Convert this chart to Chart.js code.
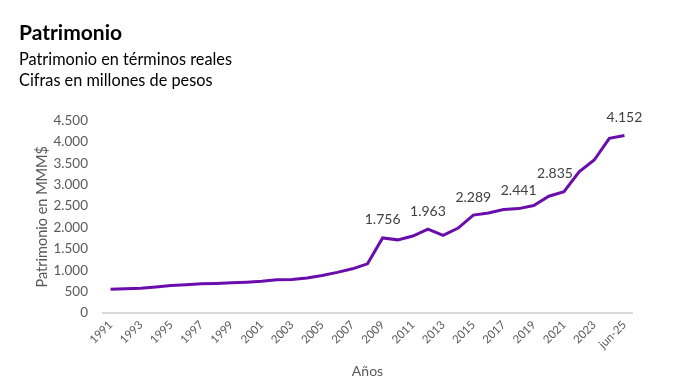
<!DOCTYPE html>
<html>
<head>
<meta charset="utf-8">
<script src="https://cdn.jsdelivr.net/npm/chart.js@4/dist/chart.umd.min.js"></script>
<style>
  html, body { margin: 0; padding: 0; background: #fff; }
  #wrap { width: 675px; height: 392px; }
</style>
</head>
<body>
<div id="wrap"><canvas id="patrimonioChart"></canvas></div>
<script>
// Datos del gráfico
const years = ['1991','1992','1993','1994','1995','1996','1997','1998','1999','2000',
  '2001','2002','2003','2004','2005','2006','2007','2008','2009','2010',
  '2011','2012','2013','2014','2015','2016','2017','2018','2019','2020',
  '2021','2022','2023','2024','jun-25'];
const patrimonio = [555, 565, 578, 610, 641, 660, 681, 690, 704, 720,
  742, 775, 782, 820, 876, 950, 1033, 1150, 1756, 1710,
  1800, 1963, 1815, 1987, 2289, 2340, 2418, 2441, 2512, 2731,
  2835, 3303, 3577, 4086, 4152];
const labeledPoints = [18, 21, 24, 27, 30, 34];
const yTicks = [0, 500, 1000, 1500, 2000, 2500, 3000, 3500, 4000, 4500];

const fmt = v => v.toLocaleString('de-DE');
const FONT = 'Lato, "Open Sans", sans-serif';

// Etiquetas de datos
const dataLabels = {
  id: 'dataLabels',
  afterDatasetsDraw(chart) {
    const ctx = chart.ctx;
    const meta = chart.getDatasetMeta(0);
    ctx.save();
    ctx.font = '14px ' + FONT;
    ctx.fillStyle = '#404040';
    ctx.textAlign = 'center';
    ctx.textBaseline = 'middle';
    labeledPoints.forEach(i => {
      const p = meta.data[i];
      const dx = i === 30 ? -9 : 0;
      ctx.fillText(fmt(patrimonio[i]), p.x + dx, p.y - 18);
    });
    ctx.restore();
  }
};

new Chart(document.getElementById('patrimonioChart'), {
  type: 'line',
  data: {
    labels: years,
    datasets: [{
      data: patrimonio,
      borderColor: '#6a0dad',
      borderWidth: 3,
      pointRadius: 0,
      tension: 0,
      fill: false
    }]
  },
  options: {
    responsive: true,
    maintainAspectRatio: false,
    animation: false,
    layout: { padding: { left: 19, right: 43, top: 8, bottom: 8 } },
    scales: {
      x: {
        offset: true,
        grid: { display: false, drawTicks: false },
        border: { display: true, color: '#d9d9d9', width: 2 },
        ticks: {
          color: '#595959',
          font: { family: FONT, size: 11.5 },
          padding: 5,
          maxRotation: 45, minRotation: 45,
          autoSkip: false,
          callback: (v, i) => (i % 2 === 0 ? years[i] : null)
        },
        title: { display: true, text: 'Años', color: '#595959', font: { family: FONT, size: 14 }, padding: { top: 7 } }
      },
      y: {
        min: 0, max: 4500,
        afterBuildTicks: axis => { axis.ticks = yTicks.map(v => ({ value: v })); },
        afterFit: axis => { axis.width = 84; },
        grid: { display: false, drawTicks: false },
        border: { display: false },
        ticks: {
          color: '#595959',
          font: { family: FONT, size: 13.5 },
          padding: 15,
          callback: v => fmt(v)
        },
        title: { display: true, text: 'Patrimonio en MMM$', color: '#595959', font: { family: FONT, size: 14.5 }, padding: { top: 15, bottom: 0 } }
      }
    },
    plugins: {
      legend: { display: false },
      tooltip: { enabled: false },
      title: {
        display: true, align: 'start', text: 'Patrimonio', color: '#000',
        font: { family: FONT, size: 21, weight: 'bold' },
        padding: { top: 13, bottom: 3 }
      },
      subtitle: {
        display: true, align: 'start',
        text: ['Patrimonio en términos reales', 'Cifras en millones de pesos'],
        color: '#000',
        font: { family: FONT, size: 16.3, lineHeight: 1.3 },
        padding: { bottom: 29 }
      }
    }
  },
  plugins: [dataLabels]
});
</script>
</body>
</html>
